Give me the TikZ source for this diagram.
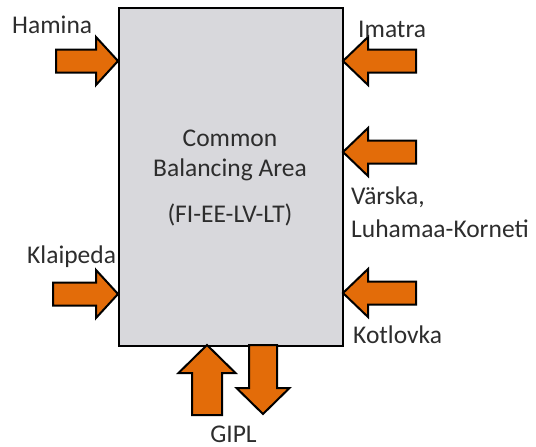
\documentclass[tikz,border=0pt]{standalone}
\usepackage{fontspec}
\setmainfont{Carlito}
\definecolor{boxgray}{RGB}{216,216,220}
\definecolor{arroworange}{RGB}{227,108,9}
\definecolor{txtgray}{RGB}{45,45,45}
\begin{document}
\begin{tikzpicture}[x=1pt,y=-1pt,
  blockarrow/.style={draw=black,line width=2pt,fill=arroworange,line join=miter},
  lbl/.style={inner sep=0pt,anchor=base west,text=txtgray,font=\fontsize{25.5}{30}\selectfont},
  ctr/.style={inner sep=0pt,anchor=base,text=txtgray,font=\fontsize{25.5}{30}\selectfont}]
\useasboundingbox (0,0) rectangle (536,447);
% main area
\node[draw=black,line width=2pt,fill=boxgray,minimum width=224pt,minimum height=338pt,inner sep=0pt,anchor=north west] (area) at (118,7) {};
% centre text
\node[ctr] (t1) at (230,146) {Common};
\node[ctr] (t2) at (230,176) {Balancing Area};
\node[ctr] (t3) at (230,222) {(FI-EE-LV-LT)};
% tips
\coordinate (hamtip) at (118,61);
\coordinate (klatip) at (118,294);
\coordinate (imatip) at (343,61);
\coordinate (vartip) at (343,152);
\coordinate (kottip) at (343,293);
\coordinate (gupt) at (207,345);
\coordinate (gdnt) at (263,414);
% Hamina (right pointing)
\draw[blockarrow] (hamtip) -- ++(-22,-24) -- ++(0,12.5) -- ++(-40,0) -- ++(0,23) -- ++(40,0) -- ++(0,12.5) -- cycle;
% Klaipeda
\draw[blockarrow] (klatip) -- ++(-22,-24) -- ++(0,12.5) -- ++(-43,0) -- ++(0,23) -- ++(43,0) -- ++(0,12.5) -- cycle;
% Imatra (left pointing)
\draw[blockarrow] (imatip) -- ++(25,-24) -- ++(0,12.5) -- ++(48,0) -- ++(0,23) -- ++(-48,0) -- ++(0,12.5) -- cycle;
% Varska
\draw[blockarrow] (vartip) -- ++(25,-24) -- ++(0,12.5) -- ++(48,0) -- ++(0,23) -- ++(-48,0) -- ++(0,12.5) -- cycle;
% Kotlovka
\draw[blockarrow] (kottip) -- ++(25,-24) -- ++(0,12.5) -- ++(48,0) -- ++(0,23) -- ++(-48,0) -- ++(0,12.5) -- cycle;
% GIPL up
\draw[blockarrow] (gupt) -- ++(28.5,28) -- ++(-13.5,0) -- ++(0,42) -- ++(-30,0) -- ++(0,-42) -- ++(-13.5,0) -- cycle;
% GIPL down
\draw[blockarrow] (gdnt) -- ++(26.5,-26) -- ++(-12.5,0) -- ++(0,-43) -- ++(-28,0) -- ++(0,43) -- ++(-12.5,0) -- cycle;
% labels
\node[lbl] (ham) at (12,33) {Hamina};
\node[lbl] (ima) at (358,37) {Imatra};
\node[lbl] (var) at (351,204) {Värska,};
\node[lbl] (luh) at (351,237) {Luhamaa-Korneti};
\node[lbl] (kla) at (27,263) {Klaipeda};
\node[lbl] (kot) at (353,343) {Kotlovka};
\node[ctr,text depth=0pt] (gipl) at (233.5,442) {GIPL};
\end{tikzpicture}
\end{document}
